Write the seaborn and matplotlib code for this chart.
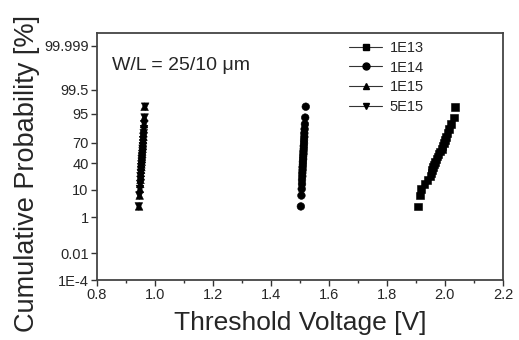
import matplotlib
matplotlib.use("Agg")
import matplotlib.pyplot as plt
from matplotlib.lines import Line2D
import seaborn as sns
import pandas as pd
from statistics import NormalDist

# threshold voltages [V] (sorted)
vth_1e13 = [1.908, 1.914, 1.918, 1.930, 1.940, 1.950, 1.953, 1.955, 1.958, 1.962,
            1.966, 1.971, 1.974, 1.978, 1.984, 1.989, 1.992, 1.996, 2.000, 2.003,
            2.009, 2.014, 2.020, 2.032, 2.035]
vth_1e14 = [1.503, 1.505, 1.506, 1.507, 1.507, 1.508, 1.508, 1.509, 1.509, 1.510,
            1.510, 1.511, 1.511, 1.512, 1.512, 1.513, 1.513, 1.514, 1.514, 1.515,
            1.515, 1.516, 1.517, 1.518, 1.520]
vth_1e15 = [0.945, 0.947, 0.948, 0.949, 0.950, 0.951, 0.951, 0.952, 0.953, 0.953,
            0.954, 0.955, 0.955, 0.956, 0.956, 0.957, 0.958, 0.958, 0.959, 0.960,
            0.960, 0.961, 0.962, 0.963, 0.964]
vth_5e15 = [0.944, 0.946, 0.948, 0.949, 0.950, 0.950, 0.951, 0.952, 0.952, 0.953,
            0.954, 0.954, 0.955, 0.956, 0.957, 0.957, 0.958, 0.959, 0.959, 0.960,
            0.961, 0.962, 0.963, 0.964, 0.966]

doses = ["1E13", "1E14", "1E15", "5E15"]
markers = {"1E13": "s", "1E14": "o", "1E15": "^", "5E15": "v"}

ytick_pct = [1e-4, 0.01, 1, 10, 40, 70, 95, 99.5, 99.999]
ytick_labels = ["1E-4", "0.01", "1", "10", "40", "70", "95", "99.5", "99.999"]

nd = NormalDist()

def probit(pct):
    return nd.inv_cdf(pct / 100.0)

# build long table with median-rank cumulative probability
rows = []
for dose, vals in zip(doses, [vth_1e13, vth_1e14, vth_1e15, vth_5e15]):
    n = len(vals)
    for i, v in enumerate(sorted(vals), start=1):
        p = (i - 0.3) / (n + 0.4) * 100
        rows.append({"Vth": v, "z": probit(p), "dose": dose})
df = pd.DataFrame(rows)

sns.set_style("ticks")
plt.rcParams["font.family"] = ["Liberation Sans", "DejaVu Sans"]

fig = plt.figure(figsize=(5.19, 3.40), dpi=100)
ax = fig.add_axes([0.187, 0.176, 0.782, 0.727])

sns.scatterplot(data=df, x="Vth", y="z", style="dose", markers=markers,
                style_order=doses, color="black", edgecolor="black",
                s=30, linewidth=0.4, legend=False, ax=ax)

ax.set_xlim(0.8, 2.2)
ax.set_xticks([0.8, 1.0, 1.2, 1.4, 1.6, 1.8, 2.0, 2.2])
ax.set_xticks([0.9, 1.1, 1.3, 1.5, 1.7, 1.9, 2.1], minor=True)
ax.set_ylim(probit(1e-4), -probit(1e-4))
ax.set_yticks([probit(p) for p in ytick_pct])
ax.set_yticklabels(ytick_labels)

ax.tick_params(axis="both", which="major", labelsize=10.5, direction="out",
               length=4, width=1, color="#333333", pad=2)
ax.tick_params(axis="x", which="minor", direction="out", length=2.5, width=1,
               color="#333333")
for sp in ax.spines.values():
    sp.set_visible(True)
    sp.set_color("#444444")
    sp.set_linewidth(1.3)

ax.set_xlabel("Threshold Voltage [V]", fontsize=19, labelpad=6)
ax.set_ylabel("Cumulative Probability [%]", fontsize=19.5)
ax.yaxis.set_label_coords(-0.14, 0.43)

ax.text(0.038, 0.87, "W/L = 25/10 \u03bcm", transform=ax.transAxes,
        fontsize=14, va="center", ha="left")

handles = [Line2D([], [], color="#333333", lw=0.8, marker=markers[d],
                  markersize=5, markerfacecolor="black",
                  markeredgecolor="black") for d in doses]
ax.legend(handles, doses, loc="upper right", bbox_to_anchor=(0.83, 1.01),
          frameon=False, fontsize=10.5, handlelength=2.3, handletextpad=0.5,
          labelspacing=0.4, borderaxespad=0.3)

fig.savefig("out.png", dpi=100)
